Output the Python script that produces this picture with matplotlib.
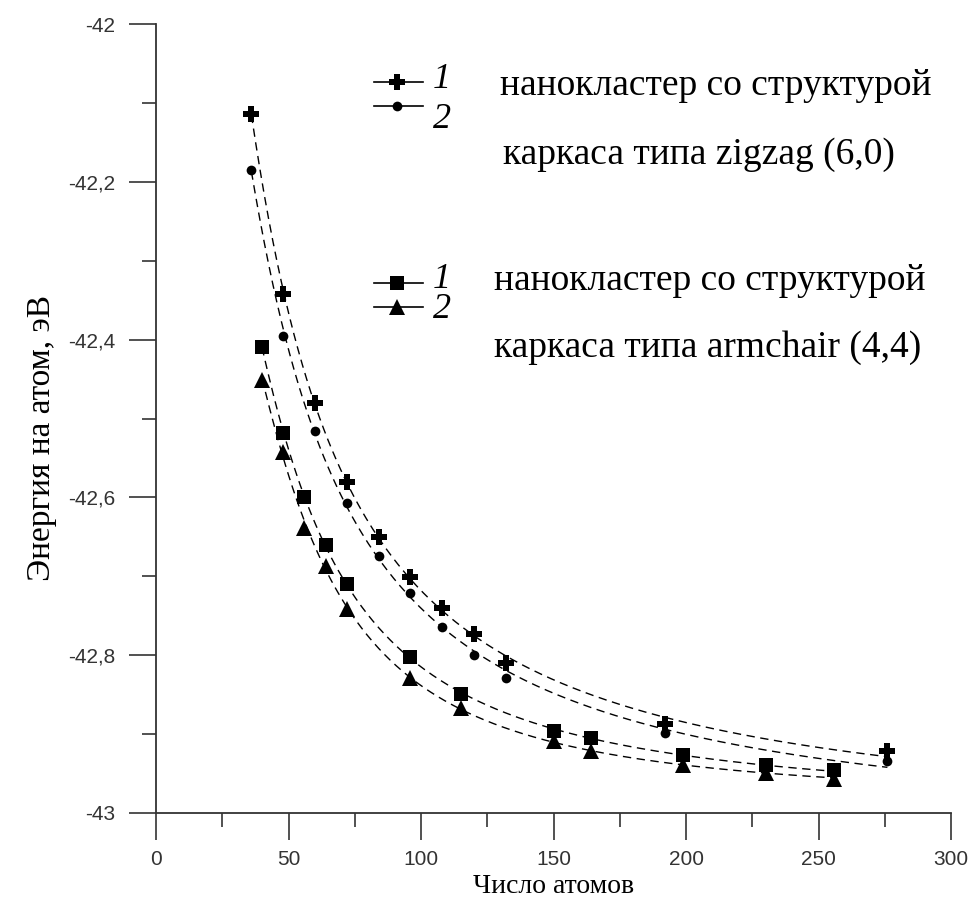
import numpy as np
import matplotlib.pyplot as plt
from matplotlib.lines import Line2D
from matplotlib.ticker import MultipleLocator, FuncFormatter

# zigzag (6,0) clusters
n_zz = [36, 48, 60, 72, 84, 96, 108, 120, 132, 192, 276]
e_zz1 = [-42.114, -42.342, -42.480, -42.580, -42.650, -42.701, -42.740, -42.773, -42.810, -42.887, -42.921]
e_zz2 = [-42.185, -42.395, -42.516, -42.607, -42.674, -42.721, -42.764, -42.800, -42.829, -42.899, -42.934]

# armchair (4,4) clusters
n_ac = [40, 48, 56, 64, 72, 96, 115, 150, 164, 199, 230, 256]
e_ac1 = [-42.409, -42.518, -42.600, -42.660, -42.710, -42.802, -42.849, -42.896, -42.905, -42.927, -42.939, -42.946]
e_ac2 = [-42.451, -42.542, -42.639, -42.687, -42.741, -42.829, -42.867, -42.909, -42.921, -42.939, -42.949, -42.957]

W, H = 971, 909
fig = plt.figure(figsize=(W / 100, H / 100), dpi=100)
ax = fig.add_axes([156 / W, 1 - 813 / H, (951 - 156) / W, (813 - 24) / H])

serif = ['Liberation Serif', 'DejaVu Serif']
sans = ['Liberation Sans', 'DejaVu Sans']
dash = (0, (6, 4))


def fit_curve(n, e):
    # smooth trend line a + b/n + c/n^2 + d/n^3 through the points
    n = np.asarray(n, float)
    coef = np.polyfit(1 / n, e, 3)
    xs = np.linspace(n.min(), n.max(), 300)
    return xs, np.polyval(coef, 1 / xs)


series = [
    (n_zz, e_zz1, dict(marker='P', ms=11, mew=0)),
    (n_zz, e_zz2, dict(marker='o', ms=7, mew=0)),
    (n_ac, e_ac1, dict(marker='s', ms=10, mew=0)),
    (n_ac, e_ac2, dict(marker='^', ms=11, mew=0)),
]
for n, e, mk in series:
    xs, ys = fit_curve(n, e)
    ax.plot(xs, ys, color='black', lw=1.0, linestyle=dash)
    ax.plot(n, e, linestyle='none', color='black', clip_on=False, **mk)

ax.set_xlim(0, 300)
ax.set_ylim(-43, -42)
for s in ['top', 'right']:
    ax.spines[s].set_visible(False)
for s in ['left', 'bottom']:
    ax.spines[s].set_color('#333333')
    ax.spines[s].set_linewidth(1.3)

ax.xaxis.set_major_locator(MultipleLocator(50))
ax.xaxis.set_minor_locator(MultipleLocator(25))
ax.yaxis.set_major_locator(MultipleLocator(0.2))
ax.yaxis.set_minor_locator(MultipleLocator(0.1))
ax.yaxis.set_major_formatter(FuncFormatter(lambda v, p: ('%g' % round(v, 1)).replace('.', ',')))
ax.tick_params(which='major', direction='out', length=19.5, width=1.2, color='#333333',
               labelsize=15, labelcolor='#333333')
ax.tick_params(which='minor', direction='out', length=10, width=1.2, color='#333333')
ax.tick_params(axis='y', which='major', pad=10)
ax.tick_params(axis='x', which='major', pad=7)
for lab in ax.get_xticklabels() + ax.get_yticklabels():
    lab.set_family(sans)

ax.set_xlabel('Число атомов', family=serif, fontsize=20, labelpad=4)
ax.set_ylabel('Энергия на атом, эВ', family=serif, fontsize=24)
ax.yaxis.set_label_coords(-0.125, 0.475)

# legend drawn by hand
def fx(px):
    return px / W


def fy(py):
    return 1 - py / H


legend_rows = [(82, 'P', 11, '1'), (106, 'o', 7, '2'), (283, 's', 10, '1'), (307, '^', 11, '2')]
label_y = {82: 79, 106: 119, 283: 280, 307: 310}
for py, m, ms, lab in legend_rows:
    fig.add_artist(Line2D([fx(374), fx(423)], [fy(py), fy(py)], color='black', lw=1.2,
                          transform=fig.transFigure))
    fig.add_artist(Line2D([fx(397)], [fy(py)], marker=m, ms=ms, mew=0, color='black',
                          transform=fig.transFigure))
    fig.text(fx(433), fy(label_y[py]), lab, family=serif, style='italic', fontsize=26,
             va='center', ha='left')

fig.text(fx(500), fy(86), 'нанокластер со структурой', family=serif, fontsize=27, va='center')
fig.text(fx(503), fy(155), 'каркаса типа zigzag (6,0)', family=serif, fontsize=27, va='center')
fig.text(fx(494), fy(281), 'нанокластер со структурой', family=serif, fontsize=27, va='center')
fig.text(fx(494), fy(348), 'каркаса типа armchair (4,4)', family=serif, fontsize=27, va='center')

fig.savefig('out.png', dpi=100)
